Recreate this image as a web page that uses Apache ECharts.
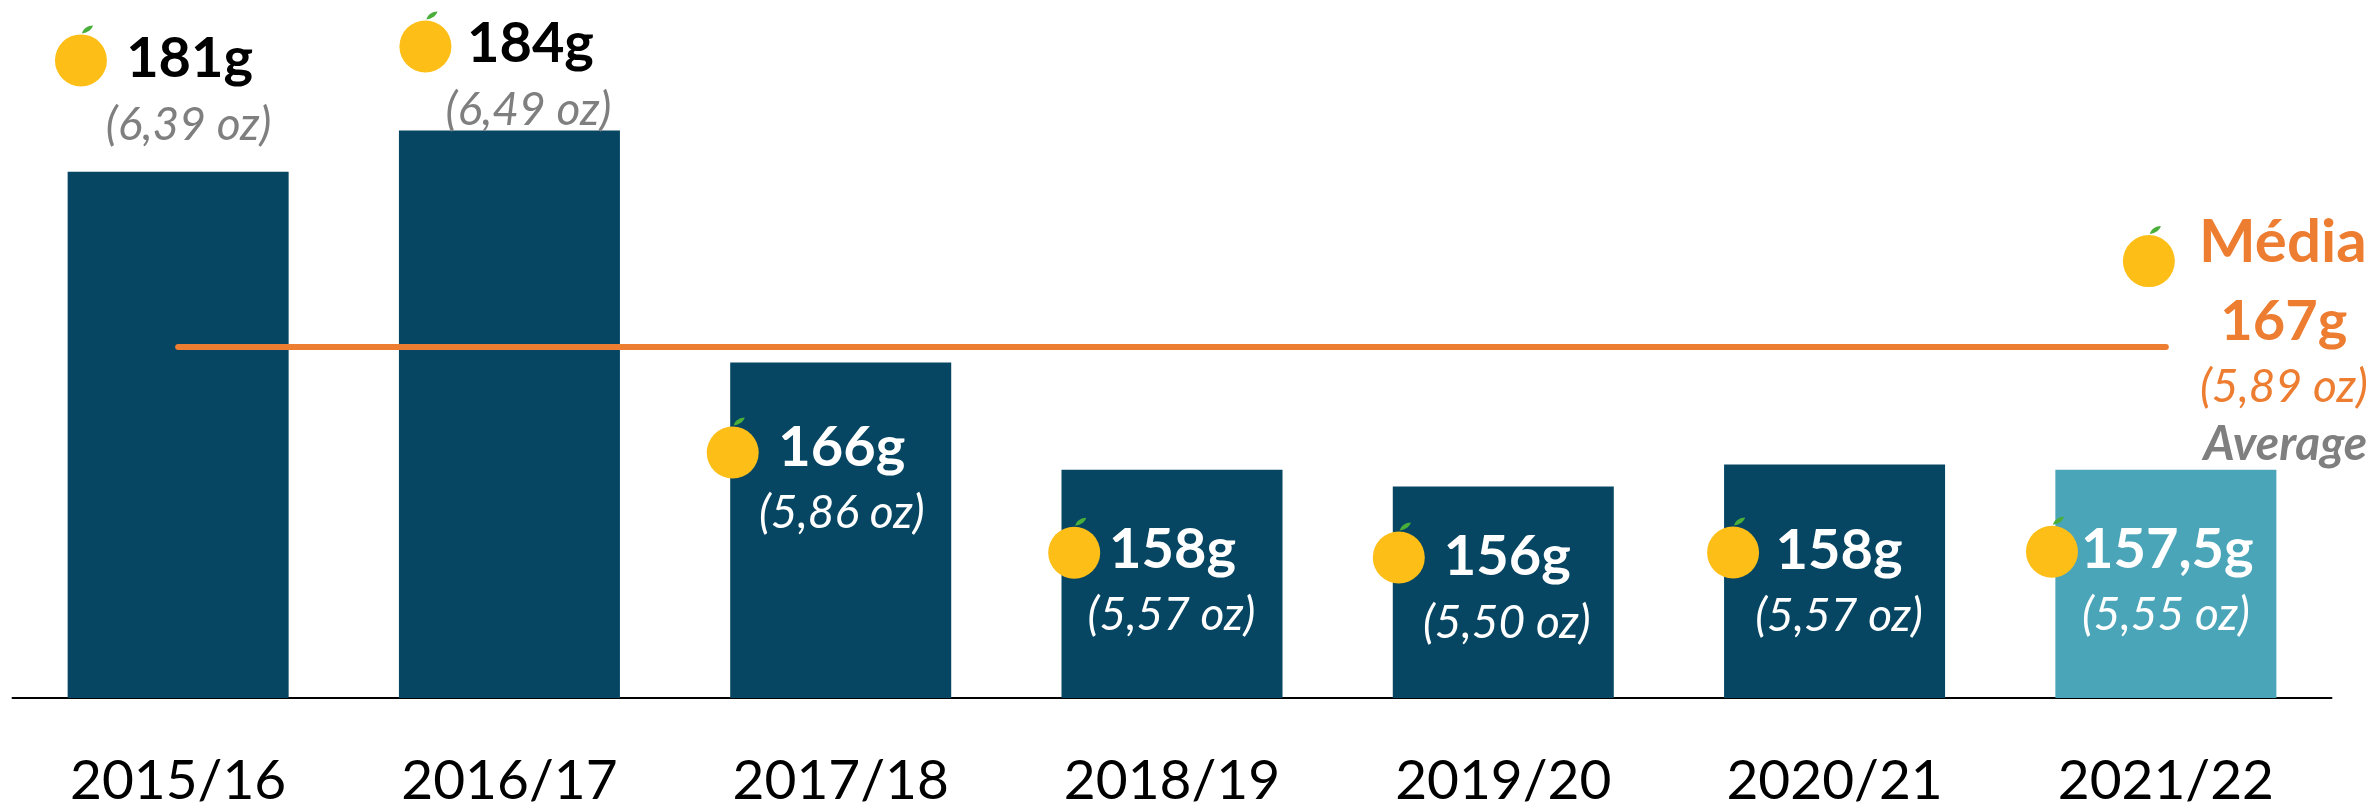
<!DOCTYPE html>
<html>
<head>
<meta charset="utf-8">
<style>html,body{margin:0;padding:0;background:#fff}#c{width:2374px;height:809px}</style>
<script src="https://cdn.jsdelivr.net/npm/echarts@6/dist/echarts.min.js"></script>
</head>
<body>
<div id="c"></div>
<script>
const categories = ['2015/16','2016/17','2017/18','2018/19','2019/20','2020/21','2021/22'];
const barValues = [180.8,184,166,157.7,156.4,158.1,157.7];
const averageValue = 167.2;
const gramLabels = ['181g','184g','166g','158g','156g','158g','157,5g'];
const ounceLabels = ['(6,39 oz)','(6,49 oz)','(5,86 oz)','(5,57 oz)','(5,50 oz)','(5,57 oz)','(5,55 oz)'];
const averageLabels = ['Média','167g','(5,89 oz)','Average'];

// label placement relative to the top centre of each bar: [dx, dy of baseline]
const orangeOffsets = [[-97.2,-111.3],[-84,-84],[-108,90],[-97.8,83],[-104.5,71],[-101.5,88],[-113.9,82]];
const gramOffsets = [[11.5,-93],[21,-66],[1,105],[0.5,100],[4,91],[4.5,107],[1.5,100.7]];
const ounceOffsets = [[10.5,-30.4],[19,-3.3],[1,167],[-0.5,162],[3.5,153],[4.5,168],[0,161.7]];
const DARK='#064663', TEAL='#4ba5b9', ORANGE='#ed7d31', GREY='#7f7f7f', YELLOW='#fdbf17', LEAF='#4aae3a';
const FONT='Lato, "Open Sans", sans-serif';

function orange(x,y){
  return [
    {type:'path',shape:{pathData:'M0 8 C1 3 6 0 11 0 C10 4 6 7 0 8 Z',x:x+1,y:y-35,width:11,height:8},style:{fill:LEAF},silent:true},
    {type:'circle',shape:{cx:x,cy:y,r:26},style:{fill:YELLOW},silent:true}
  ];
}
function label(text,x,base,size,color,weight,italic){
  return {type:'text',x:x,y:base-0.36*size,silent:true,style:{text:text,x:0,y:0,align:'center',verticalAlign:'middle',
    font:(italic?'italic ':'')+(weight||'normal')+' '+size+'px '+FONT,fill:color}};
}
const chart = echarts.init(document.getElementById('c'),null,{renderer:'canvas'});
chart.setOption({
  animation:false,
  backgroundColor:'#fff',
  grid:{left:12.5,width:2319,top:53,height:645},
  xAxis:{type:'category',data:categories,
    axisLine:{show:true,lineStyle:{color:'#000',width:2}},axisTick:{show:false},
    axisLabel:{color:'#000',fontFamily:FONT,fontSize:55,margin:56,interval:0}},
  yAxis:{type:'value',min:140,max:190,show:false,splitLine:{show:false}},
  series:[
    {type:'bar',data:barValues.map((v,i)=>({value:v,itemStyle:{color:i===6?TEAL:DARK}})),barWidth:221,z:2},
    {type:'line',data:categories.map(()=>averageValue),symbol:'none',lineStyle:{color:ORANGE,width:6,cap:'round'},z:3},
    {type:'custom',z:5,clip:false,data:barValues.map((v,i)=>[i,v]),
      renderItem(p,api){
        const i=api.value(0), t=api.coord([i,api.value(1)]);
        const col=i<2?'#000':'#fff', ozc=i<2?GREY:'#fff';
        const o=orangeOffsets[i],g=gramOffsets[i],z=ounceOffsets[i];
        return {type:'group',children:[
          ...orange(t[0]+o[0],t[1]+o[1]),
          label(gramLabels[i],t[0]+g[0],t[1]+g[1],56,col,'bold'),
          label(ounceLabels[i],t[0]+z[0],t[1]+z[1],46,ozc,'normal',true)
        ]};
      }},
    {type:'custom',z:5,clip:false,data:[[6,averageValue]],
      renderItem(p,api){
        const t=api.coord([api.value(0),api.value(1)]);
        return {type:'group',children:[
          ...orange(t[0]-17,t[1]-86),
          label(averageLabels[0],t[0]+117,t[1]-82.7,60,ORANGE,'bold'),
          label(averageLabels[1],t[0]+118,t[1]-5,56,ORANGE,'bold'),
          label(averageLabels[2],t[0]+118,t[1]+56.3,46,ORANGE,'normal',true),
          label(averageLabels[3],t[0]+119.5,t[1]+115,48,GREY,'bold',true)
        ]};
      }}
  ]
});
</script>
</body>
</html>
